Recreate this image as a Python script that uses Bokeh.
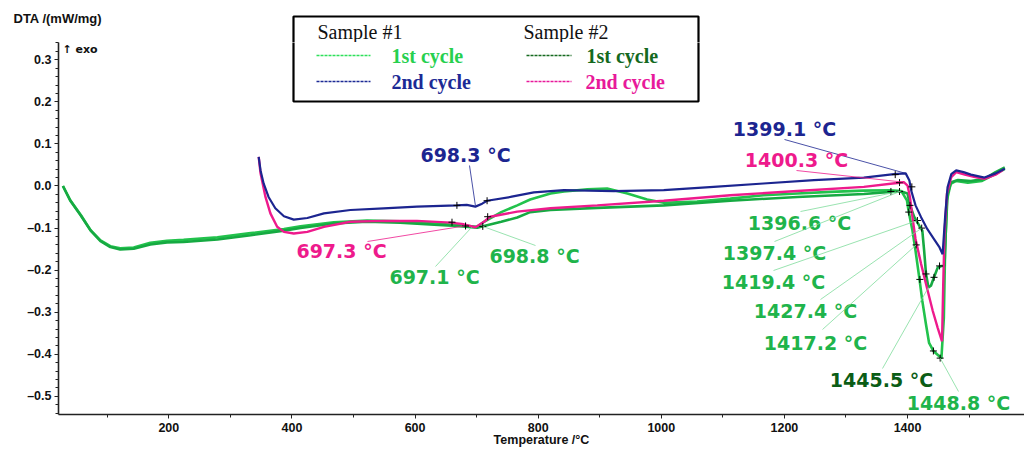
from bokeh.plotting import figure
from bokeh.layouts import column
from bokeh.models import Range1d, FixedTicker, CustomJSTickFormatter, Label, Arrow, BoxAnnotation
from bokeh.embed import file_html
from bokeh.resources import INLINE
import numpy as np

# ---------------- data ----------------
# Sample #1, 1st cycle
s1c1_T = [28, 40, 57, 73, 89, 105, 121, 143, 170, 197, 224, 279, 333, 387, 414, 468, 522, 576, 631, 668,
          701, 712, 740, 766, 787, 820, 842, 880, 912, 945, 977, 1004, 1058, 1112, 1166, 1221, 1275, 1329,
          1372, 1390, 1399, 1402, 1408, 1413, 1419, 1424, 1430, 1435, 1442, 1452, 1455, 1459, 1461, 1464,
          1470, 1479, 1498, 1521, 1543, 1558]
s1c1_v = [0.0, -0.034, -0.069, -0.105, -0.129, -0.143, -0.148, -0.146, -0.135, -0.130, -0.128, -0.122,
          -0.112, -0.102, -0.096, -0.086, -0.082, -0.084, -0.089, -0.093, -0.097, -0.085, -0.062, -0.046,
          -0.032, -0.018, -0.013, -0.008, -0.006, -0.018, -0.032, -0.040, -0.037, -0.030, -0.022, -0.018,
          -0.014, -0.011, -0.010, -0.012, -0.034, -0.062, -0.106, -0.154, -0.217, -0.273, -0.329, -0.373,
          -0.392, -0.405, -0.410, -0.313, -0.154, -0.034, 0.005, 0.012, 0.008, 0.012, 0.029, 0.041]

# Sample #2, 1st cycle
s2c1_T = [28, 40, 57, 73, 89, 105, 121, 143, 170, 197, 224, 279, 333, 387, 414, 468, 522, 576, 631, 668,
          701, 712, 740, 766, 787, 820, 896, 1004, 1112, 1221, 1329, 1372, 1390, 1400, 1404, 1411, 1419,
          1424, 1427, 1430, 1434, 1438, 1443, 1449, 1455, 1460, 1462, 1465, 1471, 1482, 1503, 1525, 1543, 1558]
s2c1_v = [0.0, -0.035, -0.070, -0.106, -0.131, -0.145, -0.151, -0.149, -0.139, -0.134, -0.133, -0.127,
          -0.117, -0.106, -0.100, -0.089, -0.085, -0.087, -0.092, -0.095, -0.099, -0.095, -0.085, -0.075,
          -0.062, -0.057, -0.052, -0.046, -0.035, -0.026, -0.019, -0.014, -0.013, -0.018, -0.046, -0.074,
          -0.094, -0.106, -0.154, -0.209, -0.241, -0.237, -0.217, -0.194, -0.190, -0.190, -0.114, -0.018,
          0.009, 0.014, 0.012, 0.017, 0.033, 0.044]

# Sample #1, 2nd cycle
s1c2_T = [346, 349, 354, 362, 373, 387, 403, 425, 452, 495, 549, 603, 668, 684, 698, 709, 717, 755, 793,
          842, 923, 1004, 1085, 1166, 1248, 1329, 1378, 1397, 1403, 1406, 1413, 1422, 1432, 1443, 1452,
          1457, 1461, 1465, 1471, 1479, 1491, 1503, 1525, 1543, 1558]
s1c2_v = [0.069, 0.037, 0.006, -0.026, -0.053, -0.072, -0.080, -0.076, -0.065, -0.057, -0.053, -0.049,
          -0.046, -0.045, -0.049, -0.042, -0.035, -0.026, -0.015, -0.010, -0.012, -0.010, -0.002, 0.006,
          0.014, 0.020, 0.028, 0.030, 0.013, -0.011, -0.046, -0.074, -0.102, -0.126, -0.146, -0.162,
          -0.074, -0.003, 0.028, 0.037, 0.033, 0.027, 0.020, 0.030, 0.041]

# Sample #2, 2nd cycle
s2c2_T = [346, 349, 357, 365, 376, 387, 403, 425, 452, 495, 549, 603, 658, 679, 698, 712, 722, 766, 820,
          896, 1004, 1112, 1221, 1329, 1383, 1394, 1400, 1404, 1408, 1413, 1422, 1430, 1441, 1449, 1456,
          1458, 1460, 1464, 1471, 1479, 1493, 1508, 1525, 1543, 1555]
s2c2_v = [0.069, 0.030, -0.026, -0.065, -0.097, -0.109, -0.113, -0.109, -0.097, -0.085, -0.083, -0.083,
          -0.087, -0.091, -0.098, -0.085, -0.073, -0.061, -0.053, -0.046, -0.035, -0.022, -0.012, -0.002,
          0.007, 0.009, 0.001, -0.027, -0.074, -0.126, -0.185, -0.233, -0.297, -0.337, -0.369, -0.233,
          -0.114, -0.018, 0.021, 0.033, 0.027, 0.022, 0.017, 0.027, 0.038]

# evaluation marks (+)
mark_T = [668, 717, 660, 682, 710, 718, 1380, 1407, 1387, 1373, 1387, 1404, 1402, 1416, 1423, 1414,
          1420, 1430, 1443, 1452, 1442, 1453]
mark_v = [-0.046, -0.035, -0.086, -0.095, -0.096, -0.073, 0.027, -0.002, 0.008, -0.013, -0.013, -0.046,
          -0.062, -0.082, -0.100, -0.140, -0.222, -0.209, -0.217, -0.190, -0.392, -0.409]

# annotated temperatures: text, target point on curve
ann_text = ["698.3 °C", "697.3 °C", "697.1 °C", "698.8 °C", "1399.1 °C", "1400.3 °C", "1396.6 °C",
            "1397.4 °C", "1419.4 °C", "1427.4 °C", "1417.2 °C", "1445.5 °C", "1448.8 °C"]
ann_T = [698, 680, 692, 710, 1397, 1394, 1390, 1388, 1416, 1423, 1414, 1434, 1453]
ann_v = [-0.046, -0.095, -0.098, -0.096, 0.030, 0.009, -0.012, -0.013, -0.082, -0.100, -0.140, -0.241, -0.409]

# tick labels
x_ticks = [200, 400, 600, 800, 1000, 1200, 1400]
x_minor = [100, 300, 500, 700, 900, 1100, 1300, 1500]
y_ticks = [-0.5, -0.4, -0.3, -0.2, -0.1, 0.0, 0.1, 0.2, 0.3]

# ---------------- styles / layout ----------------
GREEN1 = "#22c24c"
GREEN2 = "#16aa42"
BLUE = "#1c2590"
PINK = "#ee1a8c"
LBL_GREEN = "#1fb44b"
DARK_GREEN = "#0b5d16"

TOP_H = 42          # header strip height (page px)
FRAME_L = 58        # main frame left (page px)
FRAME_B = 415       # main frame bottom (page px)

def sx(px):
    return px - FRAME_L

def sy(py):
    return FRAME_B - py

def tx(px):
    return px

def ty(py):
    return TOP_H - py

# ---- header strip (above the plot frame) ----
top = figure(width=1024, height=TOP_H, output_backend="svg", toolbar_location=None,
             x_axis_location=None, y_axis_location=None, x_range=Range1d(0, 1), y_range=Range1d(0, 1),
             min_border=0, min_border_left=0, min_border_right=0, min_border_top=0, min_border_bottom=0)
top.frame_align = False
top.outline_line_color = None
top.grid.visible = False
top.add_layout(Label(x=tx(13), y=ty(18), x_units="screen", y_units="screen", text="DTA /(mW/mg)",
                     text_align="left", text_baseline="middle", text_color="#111111",
                     text_font="Liberation Sans", text_font_style="bold", text_font_size="13px"))
top.add_layout(BoxAnnotation(left=tx(293), right=tx(698), top=ty(16), bottom=ty(70),
                             left_units="screen", right_units="screen", top_units="screen",
                             bottom_units="screen", fill_color="white", fill_alpha=1.0,
                             line_color="black", line_alpha=1.0, line_width=2.2))
for txt, lx in (("Sample #1", 317), ("Sample #2", 523)):
    top.add_layout(Label(x=tx(lx), y=ty(31), x_units="screen", y_units="screen", text=txt,
                         text_align="left", text_baseline="middle", text_color="#111111",
                         text_font="Liberation Serif", text_font_size="20px"))

# ---- main plot ----
p = figure(width=1024, height=449 - TOP_H, output_backend="svg", toolbar_location=None,
           x_range=Range1d(20.8, 1590), y_range=Range1d(-0.543, 0.341),
           min_border_left=FRAME_L, min_border_right=0, min_border_top=0,
           min_border_bottom=449 - FRAME_B)
p.frame_align = False
p.outline_line_color = None
p.grid.visible = False

p.xaxis.ticker = FixedTicker(ticks=x_ticks, minor_ticks=x_minor)
y_minor = [round(v, 2) for v in np.arange(-0.54, 0.345, 0.02)]
p.yaxis.ticker = FixedTicker(ticks=y_ticks, minor_ticks=y_minor)
p.yaxis.formatter = CustomJSTickFormatter(
    code="return (tick < -1e-9 ? '\u2013' : '') + Math.abs(tick).toFixed(1);")
for ax in (p.xaxis[0], p.yaxis[0]):
    ax.axis_line_color = "#222222"
    ax.axis_line_width = 1.6
    ax.major_tick_line_color = "#222222"
    ax.minor_tick_line_color = "#222222"
    ax.major_tick_in = 0
    ax.minor_tick_in = 0
    ax.major_label_text_font = "Liberation Sans"
    ax.major_label_text_font_style = "bold"
    ax.major_label_text_font_size = "12.5px"
    ax.major_label_text_color = "#111111"
p.xaxis.major_tick_out = 4
p.xaxis.minor_tick_out = 3
p.xaxis.major_label_standoff = 4
p.xaxis.axis_label = "Temperature /°C"
p.xaxis.axis_label_text_font = "Liberation Sans"
p.xaxis.axis_label_text_font_style = "bold"
p.xaxis.axis_label_text_font_size = "12.5px"
p.xaxis.axis_label_text_color = "#111111"
p.xaxis.axis_label_standoff = -2
p.yaxis.major_tick_out = 4
p.yaxis.minor_tick_out = 3
p.yaxis.major_label_standoff = 3

# curves
p.line(s1c1_T, s1c1_v, line_color=GREEN1, line_width=2.6)
p.line(s2c1_T, s2c1_v, line_color=GREEN2, line_width=2.6)
p.line(s2c2_T, s2c2_v, line_color=PINK, line_width=2.4)
p.line(s1c2_T, s1c2_v, line_color=BLUE, line_width=2.2)

p.scatter(mark_T, mark_v, marker="cross", size=7, line_color="black", line_width=1)

# annotation labels: (center px, center py, leader start px, py, color)
ann_layout = [
    (465, 155, 469, 166, BLUE),
    (341, 251, 367, 242, PINK),
    (434, 277, 435, 267, LBL_GREEN),
    (534, 256, 535, 246, LBL_GREEN),
    (784, 129, 784, 140, BLUE),
    (796, 160, 796, 171, PINK),
    (799, 223, 800, 212, LBL_GREEN),
    (774, 253, 774, 242, LBL_GREEN),
    (773, 282, 773, 271, LBL_GREEN),
    (805, 311, 820, 300, LBL_GREEN),
    (815, 343, 822, 330, LBL_GREEN),
    (881, 380, 882, 369, DARK_GREEN),
    (958, 403, 958, 392, LBL_GREEN),
]
for txt, T, v, (cx, cy, lx, ly, col) in zip(ann_text, ann_T, ann_v, ann_layout):
    lc = "#7fdc9c" if col in (LBL_GREEN, DARK_GREEN) else col
    p.add_layout(Arrow(end=None, x_start=sx(lx), y_start=sy(ly), start_units="screen",
                       x_end=T, y_end=v, end_units="data", line_color=lc, line_width=0.8))
    p.add_layout(Label(x=sx(cx), y=sy(cy), x_units="screen", y_units="screen", text=txt,
                       text_align="center", text_baseline="middle", text_color=col,
                       text_font="DejaVu Sans", text_font_style="bold", text_font_size="19px"))

p.add_layout(Label(x=sx(62), y=sy(43), x_units="screen", y_units="screen", text="\u2191 exo",
                   text_align="left", text_baseline="top", text_color="#111111",
                   text_font="DejaVu Sans", text_font_style="bold", text_font_size="11px"))

# legend box (lower part, continuing the header strip)
p.add_layout(BoxAnnotation(left=sx(293), right=sx(698), top=sy(0), bottom=sy(102),
                           left_units="screen", right_units="screen", top_units="screen",
                           bottom_units="screen", fill_color="white", fill_alpha=1.0,
                           line_color="black", line_alpha=1.0, line_width=2.2))
legend_items = [
    ("1st cycle", 391, 56, "#27d04f", (316, 370), "#2ee05a"),
    ("2nd cycle", 391, 82, "#1c2a95", (316, 370), "#1c2a95"),
    ("1st cycle", 586, 56, "#14691e", (526, 571), "#14691e"),
    ("2nd cycle", 585, 82, "#e8199a", (526, 571), "#e8199a"),
]
for txt, lx, ly, col, seg, lcol in legend_items:
    p.add_layout(Arrow(end=None, x_start=sx(seg[0]), y_start=sy(ly), x_end=sx(seg[1]), y_end=sy(ly),
                       start_units="screen", end_units="screen", line_color=lcol,
                       line_width=1.6, line_dash="3 1"))
    p.add_layout(Label(x=sx(lx), y=sy(ly), x_units="screen", y_units="screen", text=txt,
                       text_align="left", text_baseline="middle", text_color=col,
                       text_font="Liberation Serif", text_font_style="bold", text_font_size="20px"))

layout = column(top, p, spacing=0)
open("out.html", "w").write(file_html(layout, INLINE))
